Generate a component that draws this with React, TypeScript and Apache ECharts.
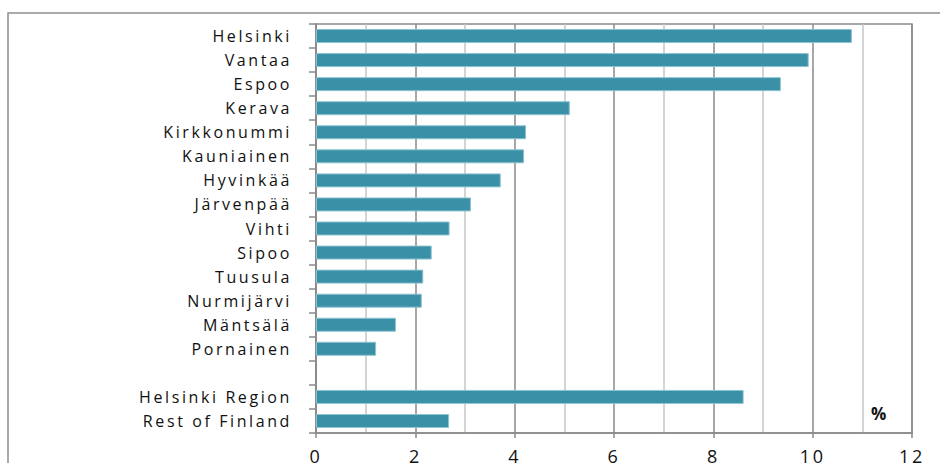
import React, { useEffect, useRef } from "react";
import * as echarts from "echarts";

const categories = [
  "Helsinki",
  "Vantaa",
  "Espoo",
  "Kerava",
  "Kirkkonummi",
  "Kauniainen",
  "Hyvinkää",
  "Järvenpää",
  "Vihti",
  "Sipoo",
  "Tuusula",
  "Nurmijärvi",
  "Mäntsälä",
  "Pornainen",
  "",
  "Helsinki Region",
  "Rest of Finland",
];

const values: (number | null)[] = [
  10.79, 9.92, 9.36, 5.11, 4.23, 4.19, 3.72, 3.12, 2.69, 2.33, 2.16, 2.13, 1.61,
  1.21, null, 8.61, 2.68,
];

const xMin = 0;
const xMax = 12;
const xInterval = 2;
const unitLabel = "%";

export default function App() {
  const ref = useRef<HTMLDivElement>(null);

  useEffect(() => {
    if (!ref.current) return;
    const chart = echarts.init(ref.current, null, { renderer: "svg" });
    const font = "'Open Sans', 'DejaVu Sans', sans-serif";
    chart.setOption({
      animation: false,
      backgroundColor: "#ffffff",
      textStyle: { fontFamily: font },
      grid: {
        left: 316,
        right: 28,
        top: 24,
        bottom: 30,
        show: true,
        containLabel: false,
        outerBoundsMode: "none",
        borderColor: "#8a8a8a",
        borderWidth: 1.5,
        backgroundColor: "transparent",
      },
      graphic: [
        {
          type: "rect",
          shape: { x: 8, y: 13, width: 1000, height: 1000 },
          style: { fill: "none", stroke: "#8e8e8e", lineWidth: 1.5 },
          silent: true,
          z: 0,
        },
        {
          type: "text",
          x: 871,
          y: 405,
          style: {
            text: unitLabel,
            font: `bold 17px ${font}`,
            fill: "#111",
          },
          z: 10,
        },
      ],
      xAxis: {
        type: "value",
        min: xMin,
        max: xMax,
        interval: xInterval,
        axisLine: { show: true, lineStyle: { color: "#8a8a8a", width: 1.5 } },
        axisTick: {
          show: true,
          length: 5,
          lineStyle: { color: "#8a8a8a", width: 1.5 },
        },
        axisLabel: {
          margin: 14,
          fontSize: 18,
          color: "#111",
          fontFamily: font,
        },
        splitLine: { show: true, lineStyle: { color: "#8a8a8a", width: 1.5 } },
        minorTick: { show: false, splitNumber: 2 },
        minorSplitLine: {
          show: true,
          lineStyle: { color: "#c6c6c6", width: 1.5 },
        },
      },
      yAxis: {
        type: "category",
        inverse: true,
        data: categories,
        axisLine: { show: true, lineStyle: { color: "#8a8a8a", width: 1.5 } },
        axisTick: {
          show: true,
          length: 7,
          lineStyle: { color: "#8a8a8a", width: 1.5 },
        },
        axisLabel: {
          margin: 24,
          fontSize: 16,
          color: "#111",
          fontFamily: font,
        },
        splitLine: { show: false },
      },
      series: [
        {
          type: "bar",
          data: values,
          barWidth: 14,
          itemStyle: {
            color: "#3A90A7",
            borderColor: "#8ec4d2",
            borderWidth: 1,
          },
          z: 3,
        },
      ],
    });
    return () => chart.dispose();
  }, []);

  return (
    <>
      <style>{`.chart-box svg text { letter-spacing: 2.6px; }`}</style>
      <div
        ref={ref}
        className="chart-box"
        style={{
          position: "fixed",
          left: 0,
          top: 0,
          width: 940,
          height: 463,
        }}
      />
    </>
  );
}
